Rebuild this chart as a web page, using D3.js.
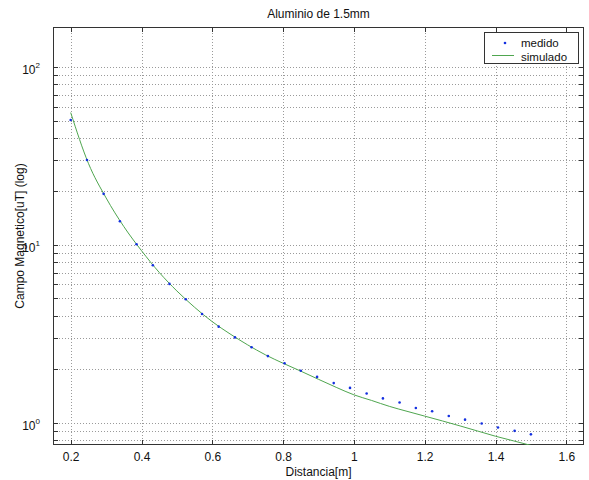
<!DOCTYPE html>
<html><head><meta charset="utf-8">
<script src="https://cdn.jsdelivr.net/npm/d3@7"></script>
<style>
body{margin:0;background:#fff}
svg{display:block}
text{font-family:"Liberation Sans",Arial,Helvetica,sans-serif;fill:#111}
</style>
</head><body><svg id="chart" width="589" height="480"></svg>
<script>
// ---- data ----
const title = "Aluminio de 1.5mm";
const xLabel = "Distancia[m]";
const yLabel = "Campo Magnetico[uT] (log)";
const seriesNames = ["medido", "simulado"];
const distance = [0.200,0.246,0.293,0.339,0.386,0.432,0.479,0.525,0.571,0.618,0.664,0.711,0.757,0.804,0.850,0.896,0.943,0.989,1.036,1.082,1.129,1.175,1.221,1.268,1.314,1.361,1.407,1.454,1.500];
const medido = [50.5,30.1,19.4,13.6,10.1,7.69,6.04,4.95,4.09,3.47,3.02,2.66,2.37,2.16,1.96,1.81,1.67,1.57,1.46,1.37,1.30,1.21,1.16,1.09,1.04,0.99,0.94,0.90,0.86];
const simDistance = [0.20,0.25,0.30,0.35,0.40,0.45,0.50,0.55,0.60,0.65,0.70,0.75,0.80,0.85,0.90,0.95,1.00,1.05,1.10,1.15,1.20,1.25,1.30,1.35,1.40,1.45,1.50];
const simulado = [55.6,28.8,18.4,12.7,9.29,7.01,5.51,4.46,3.70,3.16,2.74,2.41,2.16,1.95,1.754,1.581,1.435,1.334,1.236,1.159,1.089,1.023,0.959,0.897,0.839,0.791,0.745];
const xTicks = [0.2,0.4,0.6,0.8,1,1.2,1.4,1.6];
const xTickLabels = ["0.2","0.4","0.6","0.8","1","1.2","1.4","1.6"];
const yMajor = [1,10,100];
const yExponents = ["0","1","2"];
const xDomain = [0.15,1.65];
const yDomain = [0.749,168.5];

// ---- layout ----
const L=53, R=584, T=27, B=445;
const svg = d3.select("#chart");
const x = d3.scaleLinear().domain(xDomain).range([L,R]);
const y = d3.scaleLog().domain(yDomain).range([B,T]);
const yAll = y.ticks();
const dotColor = "#1430e0", lineColor = "#4fa64f";

svg.append("rect").attr("width",589).attr("height",480).attr("fill","#fff");

svg.append("defs").append("clipPath").attr("id","clip")
  .append("rect").attr("x",L).attr("y",T).attr("width",R-L).attr("height",B-T);

// grid
const grid = svg.append("g").attr("stroke","#9a9a9a").attr("stroke-width",1)
  .attr("stroke-dasharray","1,2").attr("shape-rendering","crispEdges");
grid.selectAll(".gx").data(xTicks).join("line")
  .attr("x1",d=>Math.round(x(d))+0.5).attr("x2",d=>Math.round(x(d))+0.5)
  .attr("y1",T).attr("y2",B);
grid.selectAll(".gy").data(yAll).join("line")
  .attr("y1",d=>Math.round(y(d))+0.5).attr("y2",d=>Math.round(y(d))+0.5)
  .attr("x1",L).attr("x2",R);

// axes
function styleAxis(g){
  g.select(".domain").remove();
  g.selectAll(".tick line").attr("stroke","#333").attr("shape-rendering","crispEdges");
  g.selectAll("text").attr("font-size",12).attr("fill","#111");
}
const xAxisB = d3.axisBottom(x).tickValues(xTicks).tickFormat((d,i)=>xTickLabels[i])
  .tickSizeInner(-5).tickSizeOuter(0).tickPadding(7);
svg.append("g").attr("transform",`translate(0,${B})`).call(xAxisB).call(styleAxis)
  .selectAll("text").attr("dy","0.71em");
const xAxisT = d3.axisTop(x).tickValues(xTicks).tickFormat("").tickSizeInner(-5).tickSizeOuter(0);
svg.append("g").attr("transform",`translate(0,${T})`).call(xAxisT).call(styleAxis);

const yAxisL = d3.axisLeft(y).tickValues(yAll).tickFormat(d=>{const i=yMajor.indexOf(d);return i>=0?"10":"";})
  .tickSizeInner(-5).tickSizeOuter(0).tickPadding(13);
const gyl = svg.append("g").attr("transform",`translate(${L},0)`).call(yAxisL).call(styleAxis);
gyl.selectAll(".tick text").each(function(d){
  const i = yMajor.indexOf(d);
  if(i>=0){
    d3.select(this).attr("dy","0.55em").append("tspan").attr("dy","-0.75em").attr("font-size",8).text(yExponents[i]);
  }
});
const yAxisR = d3.axisRight(y).tickValues(yAll).tickFormat("").tickSizeInner(-5).tickSizeOuter(0);
svg.append("g").attr("transform",`translate(${R},0)`).call(yAxisR).call(styleAxis);

// box
svg.append("rect").attr("x",L+0.5).attr("y",T+0.5).attr("width",R-L-1).attr("height",B-T-1)
  .attr("fill","none").attr("stroke","#333").attr("shape-rendering","crispEdges");

// simulated line
const simData = simDistance.map((d,i)=>[d,simulado[i]]);
svg.append("path").datum(simData).attr("clip-path","url(#clip)")
  .attr("fill","none").attr("stroke",lineColor).attr("stroke-width",1)
  .attr("d", d3.line().x(d=>x(d[0])).y(d=>y(d[1])).curve(d3.curveMonotoneX));

// measured dots
svg.append("g").selectAll("circle").data(distance.map((d,i)=>[d,medido[i]])).join("circle")
  .attr("cx",d=>x(d[0])).attr("cy",d=>y(d[1])).attr("r",1.3)
  .attr("fill",dotColor);

// title & labels
svg.append("text").attr("x",(L+R)/2).attr("y",18).attr("text-anchor","middle").attr("font-size",12).text(title);
svg.append("text").attr("x",(L+R)/2).attr("y",476).attr("text-anchor","middle").attr("font-size",12).text(xLabel);
svg.append("text").attr("transform",`translate(24,${(T+B)/2}) rotate(-90)`).attr("text-anchor","middle")
  .attr("font-size",12).text(yLabel);

// legend
const lg = svg.append("g");
lg.append("rect").attr("x",484.5).attr("y",32.5).attr("width",94).attr("height",31)
  .attr("fill","#fff").attr("stroke","#333").attr("shape-rendering","crispEdges");
lg.append("circle").attr("cx",505).attr("cy",43).attr("r",1.3).attr("fill",dotColor);
lg.append("text").attr("x",521).attr("y",46.5).attr("font-size",11.5).text(seriesNames[0]);
lg.append("line").attr("x1",492).attr("x2",514).attr("y1",55.5).attr("y2",55.5).attr("stroke",lineColor);
lg.append("text").attr("x",521).attr("y",60.5).attr("font-size",11.5).text(seriesNames[1]);
</script>
</body></html>
